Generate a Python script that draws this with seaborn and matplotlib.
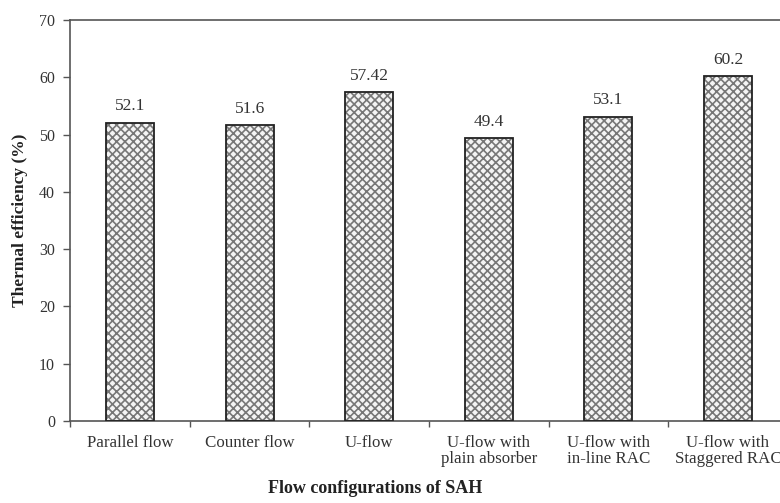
import matplotlib
matplotlib.use("Agg")
import matplotlib.pyplot as plt
import seaborn as sns
import pandas as pd
import numpy as np
from matplotlib.patches import Rectangle

categories = ["Parallel flow", "Counter flow", "U-flow",
              "U-flow with\nplain absorber", "U-flow with\nin-line RAC",
              "U-flow with\nStaggered RAC"]
efficiency = [52.1, 51.6, 57.42, 49.4, 53.1, 60.2]
value_labels = ["52.1", "51.6", "57.42", "49.4", "53.1", "60.2"]
y_ticks = [0, 10, 20, 30, 40, 50, 60, 70]

df = pd.DataFrame({"config": categories, "eff": efficiency})

sns.set_theme(style="white")
plt.rcParams["font.family"] = ["Liberation Serif", "DejaVu Serif"]
plt.rcParams["hatch.linewidth"] = 1.2

fig = plt.figure(figsize=(7.8, 5.03), dpi=100)
ax = fig.add_axes([0.09, 0.163, 0.92, 0.797])

sns.barplot(data=df, x="config", y="eff", ax=ax, width=0.4,
            color="#f4f4f4", edgecolor="#777777", linewidth=0, saturation=1)

for p in ax.patches:
    p.set_hatch("xxxx")
    ax.add_patch(Rectangle(p.get_xy(), p.get_width(), p.get_height(),
                           fill=False, edgecolor="#222222", linewidth=1.3, zorder=3))

for i, (v, lab) in enumerate(zip(efficiency, value_labels)):
    ax.text(i, v + 1.5, lab, ha="center", va="bottom", fontsize=12.5, color="#333333")

ax.set_ylim(0, 70)
ax.set_xlim(-0.5, len(categories) - 0.5)
ax.set_yticks(y_ticks)
ax.set_yticklabels([str(t) for t in y_ticks], fontsize=11.5, color="#333333")
ax.set_xticks(range(len(categories)))
ax.set_xticklabels(categories, fontsize=12.2, color="#333333", linespacing=1.05)
ax.set_xticks(np.arange(-0.5, len(categories), 1.0), minor=True)
ax.tick_params(axis="x", which="major", length=0, pad=10)
ax.tick_params(axis="x", which="minor", length=4, width=1, color="#555555", direction="out", bottom=True)
ax.tick_params(axis="y", length=5, width=1, color="#555555", direction="out", left=True, pad=6)

for side in ["left", "bottom", "top"]:
    ax.spines[side].set_color("#555555")
    ax.spines[side].set_linewidth(1.2)
ax.spines["right"].set_visible(False)

ax.set_ylabel("Thermal efficiency (%)", fontsize=12.5, fontweight="bold", color="#222222", labelpad=8)
ax.set_xlabel("Flow configurations of SAH", fontsize=13, fontweight="bold", color="#222222")
# shift the x-axis title left, centred under the first five groups
ax.xaxis.set_label_coords((375 - 70) / 717.6, -0.148)

fig.savefig("out.png", dpi=100)
